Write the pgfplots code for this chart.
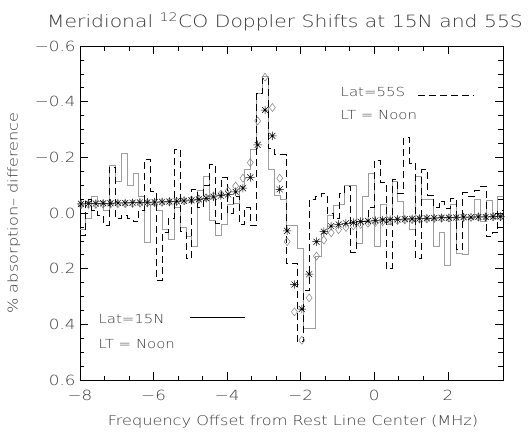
\documentclass[border=0pt]{standalone}
\usepackage{pgfplots}
\pgfplotsset{compat=1.18}
\usepackage{pgfplotstable}
\usepackage{fontspec}
\setmainfont{DejaVu Sans}[UprightFont={* ExtraLight}, FakeStretch=1.2]
\definecolor{txt}{gray}{0.22}
\definecolor{histgray}{gray}{0.62}
\definecolor{diagray}{gray}{0.5}
\pgfdeclareplotmark{ast8}{%
  \pgfpathmoveto{\pgfqpoint{-\pgfplotmarksize}{0pt}}\pgfpathlineto{\pgfqpoint{\pgfplotmarksize}{0pt}}%
  \pgfpathmoveto{\pgfqpoint{0pt}{-\pgfplotmarksize}}\pgfpathlineto{\pgfqpoint{0pt}{\pgfplotmarksize}}%
  \pgfpathmoveto{\pgfqpoint{-0.707\pgfplotmarksize}{-0.707\pgfplotmarksize}}\pgfpathlineto{\pgfqpoint{0.707\pgfplotmarksize}{0.707\pgfplotmarksize}}%
  \pgfpathmoveto{\pgfqpoint{-0.707\pgfplotmarksize}{0.707\pgfplotmarksize}}\pgfpathlineto{\pgfqpoint{0.707\pgfplotmarksize}{-0.707\pgfplotmarksize}}%
  \pgfusepathqstroke}

\pgfplotstableread{
x v
-8.00 0.06
-7.84 0.02
-7.68 -0.06
-7.52 -0.04
-7.36 -0.01
-7.20 -0.17
-7.04 -0.113
-6.88 -0.215
-6.72 -0.10
-6.56 -0.143
-6.40 -0.059
-6.24 0.107
-6.08 -0.03
-5.92 -0.01
-5.76 0.059
-5.60 0.095
-5.44 -0.02
-5.28 0.05
-5.12 0.085
-4.96 0.12
-4.80 -0.083
-4.64 -0.13
-4.48 0.025
-4.32 0.08
-4.16 0.04
-4.00 -0.03
-3.84 -0.035
-3.68 -0.095
-3.52 -0.155
-3.36 -0.227
-3.20 -0.43
-3.04 -0.49
-2.88 -0.155
-2.72 -0.065
-2.56 -0.05
-2.40 0.043
-2.24 0.043
-2.08 0.126
-1.92 0.414
-1.76 0.414
-1.60 0.157
-1.44 0.073
-1.28 0.007
-1.12 -0.029
-0.96 -0.03
-0.80 -0.10
-0.64 -0.10
-0.48 0.11
-0.32 -0.06
-0.16 -0.143
0.00 0.12
0.16 -0.03
0.32 0.04
0.48 -0.113
0.64 -0.04
0.80 0.02
0.96 0.06
1.12 -0.13
1.28 -0.05
1.44 -0.05
1.60 0.12
1.76 0.07
1.92 0.19
2.08 -0.03
2.24 0.145
2.40 0.15
2.56 0.02
2.72 -0.05
2.88 0.03
3.04 -0.047
3.20 0.02
3.36 -0.06
3.52 -0.06
}\solidN

\pgfplotstableread{
x v
-8.00 0.08
-7.84 -0.05
-7.68 -0.01
-7.52 0.01
-7.36 0.043
-7.20 -0.165
-7.04 0.02
-6.88 0.01
-6.72 0.02
-6.56 0.03
-6.40 -0.01
-6.24 -0.193
-6.08 -0.077
-5.92 0.241
-5.76 0.07
-5.60 0.02
-5.44 -0.229
-5.28 0.066
-5.12 0.163
-4.96 -0.085
-4.80 -0.02
-4.64 -0.10
-4.48 -0.173
-4.32 0.037
-4.16 -0.128
-4.00 0.0
-3.84 -0.06
-3.68 0.04
-3.52 -0.02
-3.36 0.045
-3.20 -0.43
-3.04 -0.484
-2.88 -0.233
-2.72 -0.21
-2.56 -0.21
-2.40 0.18
-2.24 0.18
-2.08 0.463
-1.92 0.277
-1.76 -0.05
-1.60 -0.059
-1.44 -0.07
-1.28 0.0
-1.12 0.02
-0.96 -0.07
-0.80 -0.097
-0.64 0.14
-0.48 0.03
-0.32 0.03
-0.16 -0.02
0.00 -0.19
0.16 -0.11
0.32 0.2
0.48 -0.12
0.64 -0.07
0.80 -0.27
0.96 -0.18
1.12 0.163
1.28 -0.155
1.44 -0.065
1.60 -0.02
1.76 -0.04
1.92 -0.017
2.08 -0.053
2.24 0.13
2.40 -0.073
2.56 -0.06
2.72 -0.083
2.88 -0.097
3.04 0.085
3.20 0.07
3.36 -0.01
3.52 -0.01
}\dashedS

\pgfplotstableread{
x a d
-7.97 -0.033 -0.030
-7.77 -0.034 -0.031
-7.57 -0.034 -0.031
-7.37 -0.035 -0.032
-7.17 -0.035 -0.032
-6.97 -0.036 -0.033
-6.77 -0.036 -0.033
-6.57 -0.037 -0.034
-6.37 -0.038 -0.035
-6.17 -0.038 -0.036
-5.97 -0.039 -0.037
-5.77 -0.040 -0.038
-5.57 -0.041 -0.040
-5.37 -0.042 -0.042
-5.17 -0.044 -0.044
-4.97 -0.046 -0.047
-4.77 -0.049 -0.050
-4.57 -0.053 -0.055
-4.37 -0.058 -0.061
-4.17 -0.062 -0.068
-3.97 -0.067 -0.080
-3.77 -0.076 -0.097
-3.57 -0.089 -0.125
-3.37 -0.128 -0.181
-3.17 -0.245 -0.331
-2.97 -0.370 -0.488
-2.77 -0.277 -0.379
-2.57 -0.085 -0.125
-2.37 0.064 0.103
-2.17 0.257 0.355
-1.97 0.345 0.457
-1.77 0.220 0.305
-1.57 0.103 0.155
-1.37 0.067 0.097
-1.17 0.047 0.071
-0.97 0.041 0.060
-0.77 0.037 0.052
-0.57 0.034 0.046
-0.37 0.031 0.041
-0.17 0.029 0.037
0.03 0.027 0.034
0.23 0.025 0.031
0.43 0.024 0.029
0.63 0.023 0.027
0.83 0.022 0.025
1.03 0.021 0.024
1.23 0.020 0.022
1.43 0.019 0.021
1.63 0.018 0.020
1.83 0.017 0.019
2.03 0.017 0.018
2.23 0.016 0.017
2.43 0.015 0.016
2.63 0.015 0.016
2.83 0.014 0.015
3.03 0.014 0.015
3.23 0.013 0.014
3.43 0.013 0.014
}\model

\begin{document}
\begin{tikzpicture}
\path[use as bounding box] (-80bp,-52bp) rectangle (448bp,380bp);
\begin{axis}[
  at={(0,0)}, anchor=south west,
  scale only axis, width=423bp, height=334bp,
  xmin=-8, xmax=3.5, ymin=-0.6, ymax=0.6, y dir=reverse,
  xtick={-8,-6,-4,-2,0,2}, xticklabels={−8,−6,−4,−2,0,2},
  ytick={-0.6,-0.4,-0.2,0,0.2,0.4,0.6},
  yticklabels={−0.6,−0.4,−0.2,0.0,0.2,0.4,0.6},
  minor x tick num=2, minor y tick num=3,
  tick align=inside, major tick length=8bp, minor tick length=4.5bp,
  every tick/.style={black, line width=0.6pt},
  axis line style={line width=0.8pt},
  tick label style={font=\fontsize{14}{16}\selectfont, text=txt},
  xticklabel style={yshift=-7bp},
  yticklabel style={xshift=-1bp},
]
\addplot[const plot, histgray, line width=0.8pt] table[x=x,y=v] {\solidN};
\addplot[const plot, black, line width=0.8pt, dash pattern=on 7bp off 4bp] table[x=x,y=v] {\dashedS};
\addplot[only marks, mark=diamond, mark size=4bp, diagray, mark options={line width=0.5pt}] table[x=x,y=d] {\model};
\addplot[only marks, mark=ast8, mark size=4.2bp, black, mark options={line width=0.5pt}] table[x=x,y=a] {\model};
\node[anchor=base west, text=txt, font=\fontsize{12.5}{15}\selectfont] at (axis cs:-1.007,-0.418) {Lat=55S};
\node[anchor=base west, text=txt, font=\fontsize{12.5}{15}\selectfont] at (axis cs:-1.007,-0.335) {LT = Noon};
\draw[black, line width=0.8pt, dash pattern=on 7bp off 4bp] (axis cs:1.197,-0.421) -- (axis cs:2.72,-0.421);
\node[anchor=base west, text=txt, font=\fontsize{12.5}{15}\selectfont] at (axis cs:-7.59,0.396) {Lat=15N};
\node[anchor=base west, text=txt, font=\fontsize{12.5}{15}\selectfont] at (axis cs:-7.59,0.486) {LT = Noon};
\draw[black, line width=0.8pt] (axis cs:-5.0,0.374) -- (axis cs:-3.51,0.374);
\end{axis}
\node[anchor=base, text=txt, font=\fontsize{17}{20}\selectfont] at (205bp,352bp) {Meridional \textsuperscript{12}CO Doppler Shifts at 15N and 55S};
\node[anchor=base, text=txt, font=\fontsize{13.5}{16}\selectfont] at (213bp,-45bp) {Frequency Offset from Rest Line Center (MHz)};
\node[rotate=90, anchor=center, text=txt, font=\fontsize{13.5}{16}\selectfont] at (-66bp,167bp) {\% absorption– difference};
\end{tikzpicture}
\end{document}
